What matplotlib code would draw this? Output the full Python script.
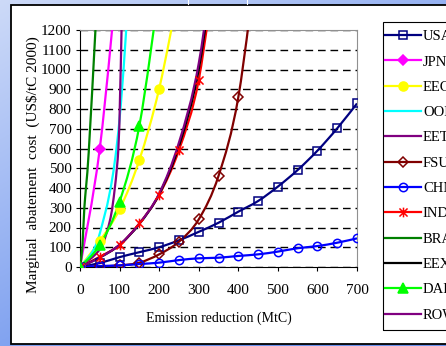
import numpy as np
import matplotlib
matplotlib.use("Agg")
import matplotlib.pyplot as plt
from matplotlib.path import Path
from matplotlib.patches import PathPatch, Rectangle
from matplotlib.lines import Line2D

plt.rcParams['font.family'] = ['Liberation Serif', 'DejaVu Serif']

# ---- data (MtC, US$/tC) ----
x_usa = [0, 50, 100, 150, 200, 250, 300, 350, 400, 450, 500, 550, 600, 650, 700]
usa = [0, 20, 50, 75, 100, 135, 178, 224, 280, 334, 407, 491, 589, 702, 828]

x_jpn = [0, 50, 100]
jpn = [0, 600, 1600]

x_eec = [0, 50, 100, 150, 200, 250]
eec = [0, 132, 292, 542, 902, 1400]

x_ooe = [0, 50, 100, 150]
ooe = [0, 170, 750, 2300]

x_eet = [0, 50, 75, 88, 97, 101, 105, 110]
eet = [0, 90, 230, 400, 600, 850, 1200, 1700]

x_fsu = [0, 50, 100, 150, 200, 250, 300, 350, 400, 450]
fsu = [0, 3, 8, 22, 64, 128, 241, 461, 859, 1620]

x_chn = [0, 50, 100, 150, 200, 250, 300, 350, 400, 450, 500, 550, 600, 650, 700]
chn = [0, 5, 8, 15, 22, 35, 44, 47, 56, 64, 78, 95, 106, 123, 145]

x_ind = [0, 50, 100, 150, 200, 250, 300, 350]
ind = [0, 52, 111, 221, 365, 592, 947, 1650]

x_bra = [0, 6, 11, 22, 39, 50]
bra = [0, 100, 300, 580, 1200, 1600]

x_eex = [0, 50, 100, 150, 200, 250, 300, 350]
eex = [0, 48, 112, 218, 368, 612, 1000, 1700]

x_dae = [0, 50, 100, 150, 200]
dae = [0, 111, 331, 715, 1400]

x_row = [0, 50, 100, 150, 200, 250, 300, 350]
row = [0, 48, 113, 220, 372, 630, 1030, 1750]

names = ["USA", "JPN", "EEC", "OOE", "EET", "FSU", "CHN", "IND", "BRA", "EEX", "DAE", "ROW"]
xs_all = [x_usa, x_jpn, x_eec, x_ooe, x_eet, x_fsu, x_chn, x_ind, x_bra, x_eex, x_dae, x_row]
ys_all = [usa, jpn, eec, ooe, eet, fsu, chn, ind, bra, eex, dae, row]

# excel-ish star marker: x plus vertical bar
star = Path([(-1, -1), (1, 1), (-1, 1), (1, -1), (0, -1.2), (0, 1.2)],
            [Path.MOVETO, Path.LINETO, Path.MOVETO, Path.LINETO, Path.MOVETO, Path.LINETO])

# colour, marker, marker size, filled
styles = {
    "USA": ("#000080", "s", 5.5, False),
    "JPN": ("#FF00FF", "D", 5.5, True),
    "EEC": ("#FFFF00", "o", 6.5, True),
    "OOE": ("#00FFFF", None, 0, True),
    "EET": ("#800080", None, 0, True),
    "FSU": ("#800000", "D", 5.5, False),
    "CHN": ("#0000FF", "o", 6, False),
    "IND": ("#FF0000", star, 7, True),
    "BRA": ("#008000", "_", 5, True),
    "EEX": ("#000000", None, 0, True),
    "DAE": ("#00FF00", "^", 7, True),
    "ROW": ("#800080", None, 0, True),
}


def smooth_path(xs, ys):
    # bezier through the points, same idea as excel's smoothed line
    pts = np.column_stack([xs, ys]).astype(float)
    n = len(pts)
    verts = [pts[0]]
    codes = [Path.MOVETO]
    for i in range(n - 1):
        p0 = pts[max(i - 1, 0)]
        p1 = pts[i]
        p2 = pts[i + 1]
        p3 = pts[min(i + 2, n - 1)]
        verts += [p1 + (p2 - p0) / 6.0, p2 - (p3 - p1) / 6.0, p2]
        codes += [Path.CURVE4] * 3
    return Path(verts, codes)


W, H = 446.0, 346.0
fig = plt.figure(figsize=(4.46, 3.46), dpi=100)

# blue backdrop + white panel
bg = fig.add_axes([0, 0, 1, 1], zorder=-10)
gx, gy = np.meshgrid(np.linspace(0, 1, 200), np.linspace(0, 1, 200))
t = np.clip(0.55 * gx + 0.75 * gy, 0, 1)
c0 = np.array([205, 218, 248]) / 255.0
c1 = np.array([105, 145, 238]) / 255.0
img = c0[None, None, :] * (1 - t[..., None]) + c1[None, None, :] * t[..., None]
bg.imshow(img, extent=[0, 1, 0, 1], aspect='auto', origin='upper')
bg.set_xlim(0, 1)
bg.set_ylim(0, 1)
bg.axis('off')
bg.add_patch(Rectangle((10.5 / W, 2.5 / H), 1.0, (H - 4.5 - 2.5) / H,
                       facecolor='white', edgecolor='black', lw=1.3))
bg.plot([188 / W, 188 / W], [1 - 4 / H, 1], color='white', lw=0.8)
bg.plot([247 / W, 247 / W], [1 - 4 / H, 1], color='white', lw=0.8)
# legend box outline
bg.add_patch(Rectangle((383 / W, 1 - 330 / H), 1.0, (330 - 22) / H,
                       facecolor='none', edgecolor='black', lw=0.8))

ax = fig.add_axes([80 / W, 79 / H, 277 / W, 237 / H])
ax.set_facecolor('white')

handles = []
for name, xs, ys in zip(names, xs_all, ys_all):
    col, mk, ms, filled = styles[name]
    ax.add_patch(PathPatch(smooth_path(xs, ys), fill=False, edgecolor=col, lw=1.6, zorder=3))
    if mk is not None:
        mx = [x for x in xs if x % 50 == 0]
        my = [y for x, y in zip(xs, ys) if x % 50 == 0]
        ax.plot(mx, my, ls='none', marker=mk, ms=ms, mec=col,
                mfc=col if filled else 'none', mew=1.1, zorder=4)
    handles.append(Line2D([], [], color=col, lw=1.6, marker=mk, ms=ms, mec=col,
                          mfc=col if filled else 'none', mew=1.1))

ax.set_xlim(0, 700)
ax.set_ylim(0, 1200)
ax.set_xticks([0, 100, 200, 300, 400, 500, 600, 700])
ax.set_yticks(list(range(0, 1300, 100)))
ax.yaxis.grid(True, color='black', ls=(0, (5.5, 3.5)), lw=1)
ax.set_axisbelow(True)
for s in ['top', 'right']:
    ax.spines[s].set_color('#909090')
for s in ['left', 'bottom']:
    ax.spines[s].set_color('black')
ax.tick_params(axis='both', labelsize=11, length=3, direction='out')
ax.tick_params(axis='x', pad=9)
ax.tick_params(axis='y', pad=3)

ax.set_xlabel('Emission reduction (MtC)', fontsize=10, labelpad=11)
fig.text(33 / W, 1 - 165 / H, 'Marginal  abatement  cost  (US$/tC 2000)',
         rotation=90, ha='center', va='center', fontsize=11)

leg = fig.legend(handles, names, loc='upper left', bbox_to_anchor=(385 / W, 1 - 30 / H),
                 fontsize=10.5, frameon=False, labelspacing=0.83,
                 handlelength=2.45, handletextpad=0.15,
                 borderpad=0, borderaxespad=0)

fig.savefig('out.png', dpi=100)
